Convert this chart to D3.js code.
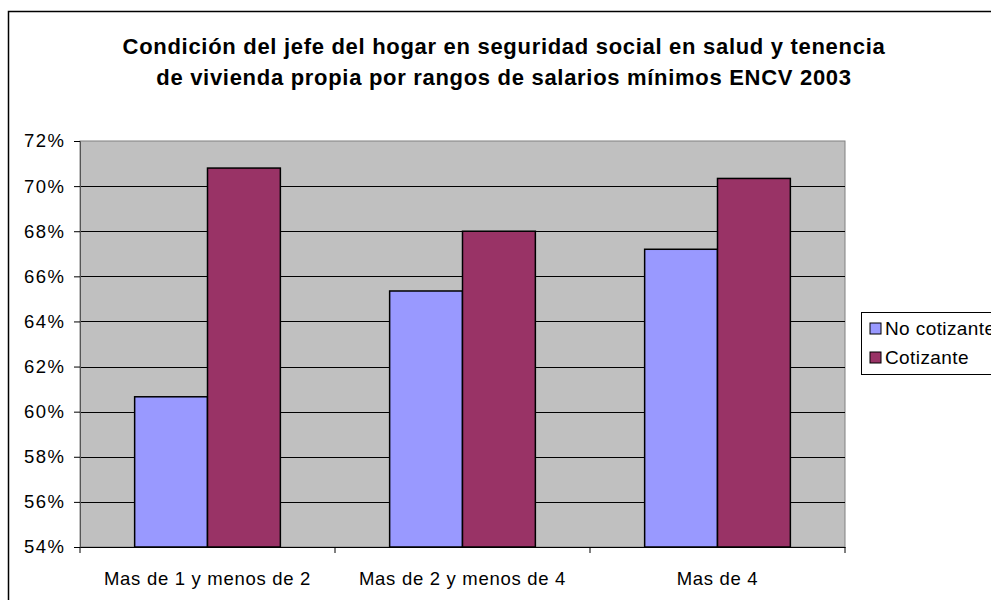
<!DOCTYPE html>
<html>
<head>
<meta charset="utf-8">
<script src="https://cdn.jsdelivr.net/npm/d3@7"></script>
<style>
    body { margin: 0; background: #fff; }
    #chart { width: 991px; height: 600px; }
    text { font-family: Arial, 'Liberation Sans', sans-serif; fill: #000; }
</style>
</head>
<body>
<div id="chart"></div>
<script>
//Datos del gráfico
const categorias = ['Mas de 1 y menos de 2', 'Mas de 2 y menos de 4', 'Mas de 4'];
const series = ['No cotizante', 'Cotizante'];
const noCotizante = [0.6066, 0.6535, 0.672];
const cotizante = [0.708, 0.680, 0.7034];
const yTicks = [0.54, 0.56, 0.58, 0.60, 0.62, 0.64, 0.66, 0.68, 0.70, 0.72];
const titulo = ['Condición del jefe del hogar en seguridad social en salud y tenencia',
    'de vivienda propia por rangos de salarios mínimos ENCV 2003'];

//Colores fijos
const COLOR_PRIMARY_1 = '#9999FF',
COLOR_COMP_1 = '#993366',
COLOR_PLOT = '#C0C0C0';

let data = categorias.map(function(c, i) {
    return { cat: c, 'No cotizante': noCotizante[i], 'Cotizante': cotizante[i] };
});

let margin = {top: 141, right: 146, bottom: 53, left: 80},
    width = 991 - margin.left - margin.right,
    height = 600 - margin.top - margin.bottom;

let root = d3.select('#chart')
    .append('svg')
        .attr('width', 991)
        .attr('height', 600);

//Borde exterior
root.append('rect')
    .attr('x', 8.5)
    .attr('y', 11.5)
    .attr('width', 1000)
    .attr('height', 620)
    .attr('fill', '#fff')
    .attr('stroke', '#000')
    .attr('stroke-width', 1.5);

//Título
root.append('text')
    .attr('x', 504)
    .attr('y', 54)
    .attr('text-anchor', 'middle')
    .style('font-size', '22px')
    .style('font-weight', '700')
    .style('letter-spacing', '0.7px')
    .selectAll('tspan')
    .data(titulo)
    .enter()
    .append('tspan')
        .attr('x', 504)
        .attr('dy', function(d, i) { return i == 0 ? 0 : 31; })
        .text(function(d) { return d; });

let svg = root.append('g')
    .attr('transform', 'translate(' + margin.left + ',' + margin.top + ')');

let x0 = d3.scaleBand()
    .domain(categorias)
    .range([0, width]);

//Ancho de barras con hueco de 150%
let x1 = d3.scaleBand()
    .domain(series)
    .range([x0.bandwidth() * 0.75 / 3.5, x0.bandwidth() - x0.bandwidth() * 0.75 / 3.5]);

let y = d3.scaleLinear()
    .domain([0.54, 0.72])
    .range([height, 0]);

let color = d3.scaleOrdinal()
    .domain(series)
    .range([COLOR_PRIMARY_1, COLOR_COMP_1]);

//Fondo del área
svg.append('rect')
    .attr('width', width)
    .attr('height', height)
    .attr('fill', COLOR_PLOT)
    .attr('stroke', '#808080')
    .attr('stroke-width', 1);

//Líneas de cuadrícula
svg.append('g')
    .selectAll('line')
    .data(yTicks.slice(1, -1))
    .enter()
    .append('line')
    .attr('x1', 0)
    .attr('x2', width)
    .attr('y1', function(d) { return Math.round(y(d)) + 0.5; })
    .attr('y2', function(d) { return Math.round(y(d)) + 0.5; })
    .attr('stroke', '#000')
    .attr('stroke-width', 1);

//Barras
svg.append('g')
    .selectAll('g')
    .data(data)
    .enter()
    .append('g')
    .attr('transform', function(d) { return 'translate(' + x0(d.cat) + ',0)'; })
    .selectAll('rect')
    .data(function(d) { return series.map(function(s) { return { key: s, value: d[s] }; }); })
    .enter()
    .append('rect')
    .attr('x', function(d) { return x1(d.key); })
    .attr('y', function(d) { return y(d.value); })
    .attr('width', x1.bandwidth())
    .attr('height', function(d) { return height - y(d.value); })
    .attr('fill', function(d) { return color(d.key); })
    .attr('stroke', '#000')
    .attr('stroke-width', 1.5);

//Eje Y
let yAxis = function(g) {
    g.call(d3.axisLeft(y).tickValues(yTicks).tickFormat(d3.format('.0%')).tickSize(6).tickPadding(10));
    g.call(function(g) { g.select('.domain').attr('stroke', '#555'); });
    g.call(function(g) { g.selectAll('.tick line').attr('stroke', '#000'); });
    g.call(function(g) { g.selectAll('text').style('font-size', '18.5px').style('letter-spacing', '1.5px').attr('dx', '1.5px').attr('fill', '#000'); });
}

svg.append('g')
    .attr('class', 'yaxis')
    .call(yAxis);

//Eje X
let xAxis = function(g) {
    g.call(d3.axisBottom(x0).tickSize(0).tickPadding(25));
    g.call(function(g) { g.select('.domain').attr('stroke', '#000'); });
    g.call(function(g) { g.selectAll('text').style('font-size', '18.5px').style('letter-spacing', '0.7px').attr('fill', '#000'); });
    //Marcas entre categorías
    g.selectAll('.sep')
        .data(d3.range(categorias.length + 1))
        .enter()
        .append('line')
        .attr('class', 'sep')
        .attr('x1', function(d) { return d * x0.step(); })
        .attr('x2', function(d) { return d * x0.step(); })
        .attr('y1', 0)
        .attr('y2', 6)
        .attr('stroke', '#000');
}

svg.append('g')
    .attr('transform', 'translate(0,' + height + ')')
    .call(xAxis);

//Leyenda
let legend = root.append('g')
    .attr('transform', 'translate(861,312)');

legend.append('rect')
    .attr('x', 0.5)
    .attr('y', 0.5)
    .attr('width', 200)
    .attr('height', 62)
    .attr('fill', '#fff')
    .attr('stroke', '#000');

let items = legend.selectAll('.item')
    .data(series)
    .enter()
    .append('g')
    .attr('class', 'item')
    .attr('transform', function(d, i) { return 'translate(9,' + (16 + i * 29) + ')'; });

items.append('rect')
    .attr('x', 0)
    .attr('y', -5)
    .attr('width', 11)
    .attr('height', 11)
    .attr('fill', function(d) { return color(d); })
    .attr('stroke', '#000');

items.append('text')
    .attr('x', 15)
    .attr('y', 7)
    .style('font-size', '19px')
    .style('letter-spacing', '0.4px')
    .text(function(d) { return d; });
</script>
</body>
</html>
